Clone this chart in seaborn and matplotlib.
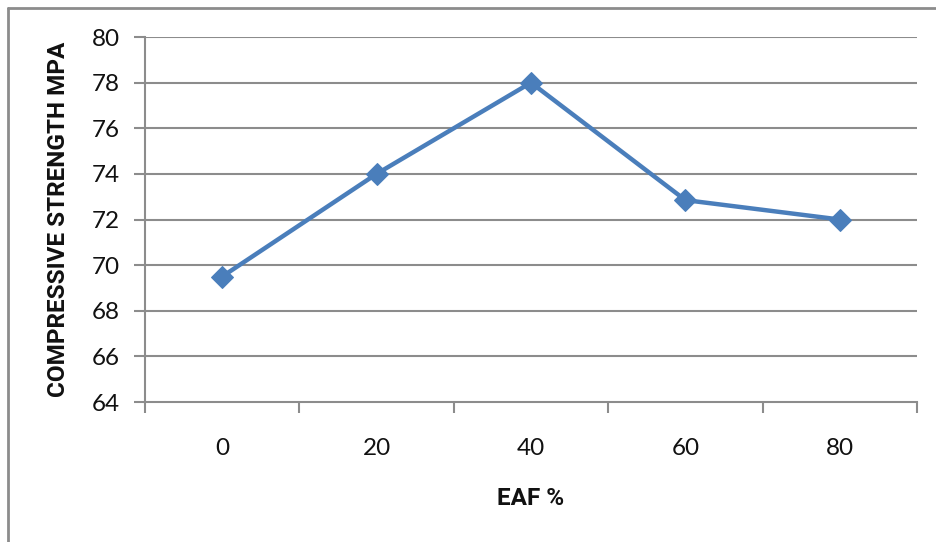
import matplotlib
matplotlib.use("Agg")
import matplotlib.pyplot as plt
import seaborn as sns
import pandas as pd
from matplotlib.lines import Line2D
from matplotlib.ticker import FixedLocator

# data
eaf_pct = ["0", "20", "40", "60", "80"]
strength = [69.5, 74.0, 78.0, 72.85, 72.0]
y_ticks = [64, 66, 68, 70, 72, 74, 76, 78, 80]

sns.set_theme(style="white")
plt.rcParams["font.family"] = ["Lato", "DejaVu Sans"]

df = pd.DataFrame({"EAF": eaf_pct, "Strength": strength})

fig = plt.figure(figsize=(9.36, 5.42), dpi=100)
ax = fig.add_axes([0.1549, 0.2583, 0.8248, 0.6734])

grid_c = "#8c8c8c"
for y in y_ticks[1:]:
    ax.axhline(y, color=grid_c, lw=1.5, zorder=0)

sns.lineplot(data=df, x="EAF", y="Strength", ax=ax, color="#4a7ebb",
             lw=3.2, marker="D", markersize=11, markeredgecolor="#4a7ebb",
             sort=False, zorder=3)

ax.set_xlim(-0.5, 4.5)
ax.set_ylim(64, 80)
ax.set_yticks(y_ticks)
ax.set_xticks(range(len(eaf_pct)))
ax.set_xticklabels(eaf_pct)
ax.xaxis.set_minor_locator(FixedLocator([i - 0.5 for i in range(len(eaf_pct) + 1)]))

for s in ["top", "right"]:
    ax.spines[s].set_visible(False)
for s in ["left", "bottom"]:
    ax.spines[s].set_color(grid_c)
    ax.spines[s].set_linewidth(1.5)

ax.tick_params(axis="y", which="major", length=8, width=1.5, color=grid_c,
               labelsize=17.5, pad=10, left=True, labelcolor="#111111")
ax.tick_params(axis="x", which="major", length=0, labelsize=17.5, pad=26,
               labelcolor="#111111")
ax.tick_params(axis="x", which="minor", length=8, width=1.5, color=grid_c, bottom=True)

lab_font = dict(fontsize=17.5, fontweight="bold", family=["Roboto", "DejaVu Sans"],
                color="#111111")
ax.set_xlabel("EAF %", labelpad=20, **lab_font)
ax.set_ylabel("COMPRESSIVE STRENGTH MPA", labelpad=16, **lab_font)

# outer chart frame (left and top edges visible)
fig.add_artist(Line2D([8 / 936, 8 / 936], [0, 1 - 8 / 542], color="#8c8c8c", lw=2))
fig.add_artist(Line2D([8 / 936, 1], [1 - 8 / 542, 1 - 8 / 542], color="#8c8c8c", lw=2))

fig.savefig("out.png", dpi=100, facecolor="white")
